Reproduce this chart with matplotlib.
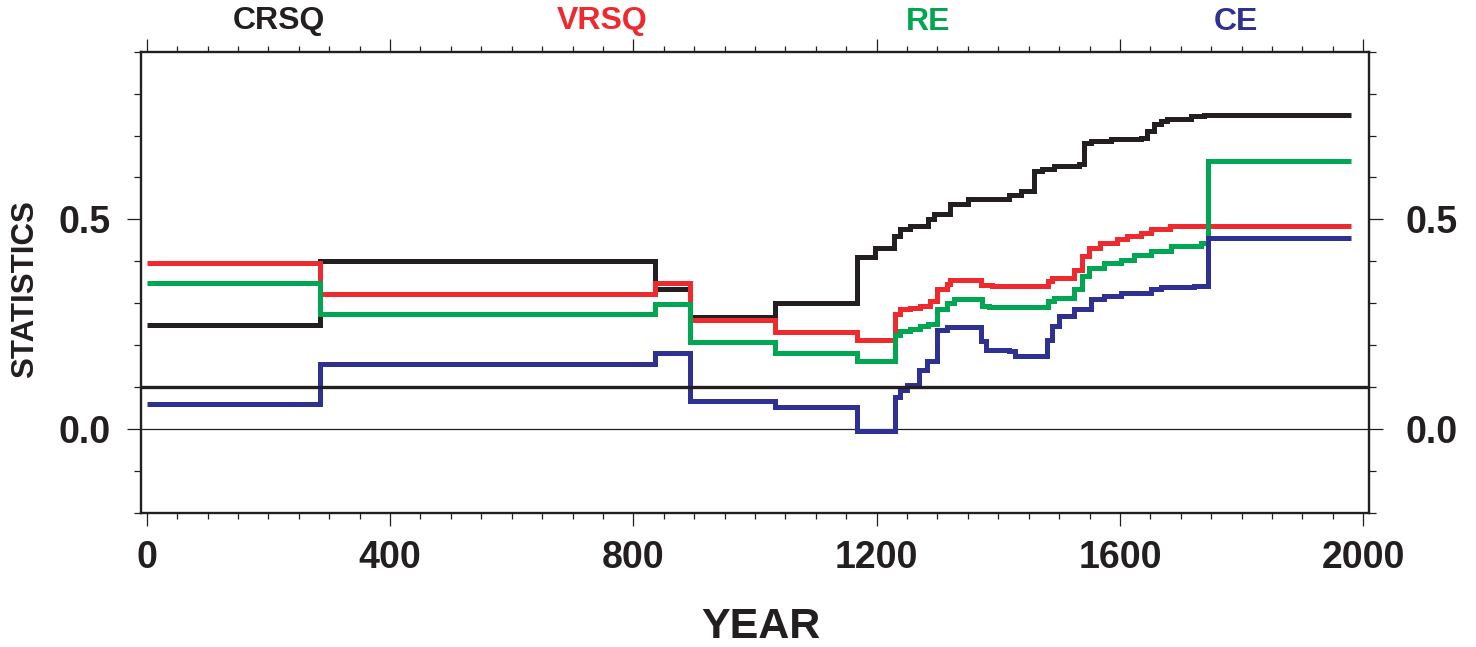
import matplotlib
matplotlib.use("Agg")
import matplotlib.pyplot as plt
import matplotlib.transforms as mtransforms
from matplotlib.ticker import MultipleLocator, FixedLocator

plt.rcParams['font.family'] = ['Liberation Sans', 'DejaVu Sans']
plt.rcParams['font.weight'] = 'bold'

# ---------------- data (step starts; last point = end of record) ----------------
crsq_years = [0, 285, 836, 893, 1033, 1168, 1198, 1229, 1239, 1255, 1285, 1294, 1321,
              1351, 1417, 1437, 1458, 1472, 1492, 1533, 1541, 1552, 1585, 1634, 1645,
              1656, 1667, 1678, 1717, 1739, 1980]
crsq_vals = [0.249, 0.400, 0.333, 0.268, 0.300, 0.409, 0.432, 0.460, 0.478, 0.484, 0.500,
             0.512, 0.536, 0.549, 0.557, 0.568, 0.616, 0.621, 0.627, 0.632, 0.683, 0.687,
             0.691, 0.695, 0.711, 0.727, 0.735, 0.739, 0.746, 0.750, 0.750]

vrsq_years = [0, 285, 836, 893, 1033, 1168, 1231, 1239, 1255, 1272, 1288, 1299, 1316,
              1321, 1371, 1390, 1481, 1489, 1524, 1538, 1549, 1568, 1596, 1612, 1634,
              1651, 1682, 1980]
vrsq_vals = [0.395, 0.323, 0.347, 0.260, 0.230, 0.213, 0.273, 0.285, 0.289, 0.294, 0.305,
             0.334, 0.345, 0.356, 0.344, 0.340, 0.352, 0.360, 0.380, 0.412, 0.432, 0.444,
             0.452, 0.460, 0.468, 0.476, 0.484, 0.484]

re_years = [0, 285, 836, 893, 1033, 1168, 1231, 1239, 1255, 1272, 1285, 1299, 1316, 1327,
            1373, 1384, 1482, 1491, 1524, 1538, 1549, 1574, 1601, 1623, 1651, 1684, 1733,
            1744, 1980]
re_vals = [0.347, 0.275, 0.297, 0.208, 0.180, 0.163, 0.225, 0.233, 0.238, 0.245, 0.251,
           0.285, 0.300, 0.311, 0.294, 0.291, 0.305, 0.313, 0.333, 0.364, 0.384, 0.396,
           0.404, 0.416, 0.424, 0.436, 0.444, 0.640, 0.640]

ce_years = [0, 285, 836, 893, 1033, 1168, 1231, 1239, 1250, 1269, 1283, 1299, 1316, 1371,
            1380, 1417, 1428, 1480, 1489, 1500, 1524, 1552, 1574, 1601, 1651, 1667, 1722,
            1744, 1980]
ce_vals = [0.060, 0.155, 0.182, 0.067, 0.053, -0.005, 0.077, 0.093, 0.105, 0.141, 0.161,
           0.237, 0.242, 0.209, 0.189, 0.185, 0.173, 0.213, 0.245, 0.269, 0.285, 0.309,
           0.317, 0.325, 0.334, 0.339, 0.340, 0.456, 0.456]

threshold = 0.1
series_names = ['CRSQ', 'VRSQ', 'RE', 'CE']
x_major_ticks = [0, 400, 800, 1200, 1600, 2000]
y_major_ticks = [0.0, 0.5]
y_tick_labels = ['0.0', '0.5']

# ---------------- styling ----------------
BLACK = '#231F20'
colors = [BLACK, '#EE2A2E', '#00A651', '#2E3192']

W, H = 1476, 647
fig = plt.figure(figsize=(W / 100, H / 100), dpi=100)
L, R, T, B = 140.7, 1369.3, 51.7, 512.7
ax = fig.add_axes([L / W, 1 - B / H, (R - L) / W, (B - T) / H])

ax.set_xlim(-10, 2010)
ax.set_ylim(-0.2, 0.9)

ax.axhline(0.0, color=BLACK, lw=0.9, zorder=1)

for xs, ys, c in zip([crsq_years, vrsq_years, re_years, ce_years],
                     [crsq_vals, vrsq_vals, re_vals, ce_vals], colors):
    ax.plot(xs, ys, drawstyle='steps-post', color=c, lw=3.6,
            solid_joinstyle='miter', solid_capstyle='butt', zorder=3)

ax.axhline(threshold, color=BLACK, lw=2.4, zorder=4)

for s in ax.spines.values():
    s.set_linewidth(1.7)
    s.set_color(BLACK)

ax.xaxis.set_major_locator(FixedLocator(x_major_ticks))
ax.xaxis.set_minor_locator(MultipleLocator(50))
ax.yaxis.set_major_locator(FixedLocator(y_major_ticks))
ax.yaxis.set_minor_locator(MultipleLocator(0.1))
ax.set_yticklabels(y_tick_labels)

ax.tick_params(axis='x', which='major', direction='out', length=9.5, width=0.9,
               color=BLACK, top=True, bottom=True, labeltop=False, labelbottom=True,
               labelsize=27, pad=10, labelcolor=BLACK)
ax.tick_params(axis='x', which='minor', direction='out', length=4.5, width=0.9,
               color=BLACK, top=True, bottom=True)
ax.tick_params(axis='y', which='major', direction='out', length=10, width=0.9,
               color=BLACK, left=True, right=True, labelleft=True, labelright=True,
               labelsize=27, labelcolor=BLACK, pad=12)
ax.tick_params(axis='y', which='minor', direction='out', length=5, width=0.9,
               color=BLACK, left=True, right=True)

shift_right = mtransforms.ScaledTranslation(6 / 100, 0, fig.dpi_scale_trans)
for lab in ax.get_xticklabels():
    lab.set_fontweight('bold')
for t in ax.yaxis.get_major_ticks():
    t.label1.set_fontweight('bold')
    t.label2.set_fontweight('bold')
    t.label2.set_transform(t.label2.get_transform() + shift_right)

fig.text(761 / W, 1 - 627 / H, 'YEAR', ha='center', va='center',
         fontsize=31, fontweight='bold', color=BLACK)
fig.text(25 / W, 1 - 289 / H, 'STATISTICS', ha='center', va='center',
         rotation=90, fontsize=22.5, fontweight='bold', color=BLACK)

label_x = [278.5, 602, 928, 1236]
for name, c, xp in zip(series_names, colors, label_x):
    fig.text(xp / W, 1 - 21.5 / H, name, ha='center', va='center',
             fontsize=23, fontweight='bold', color=c)

fig.savefig('out.png', dpi=100)
